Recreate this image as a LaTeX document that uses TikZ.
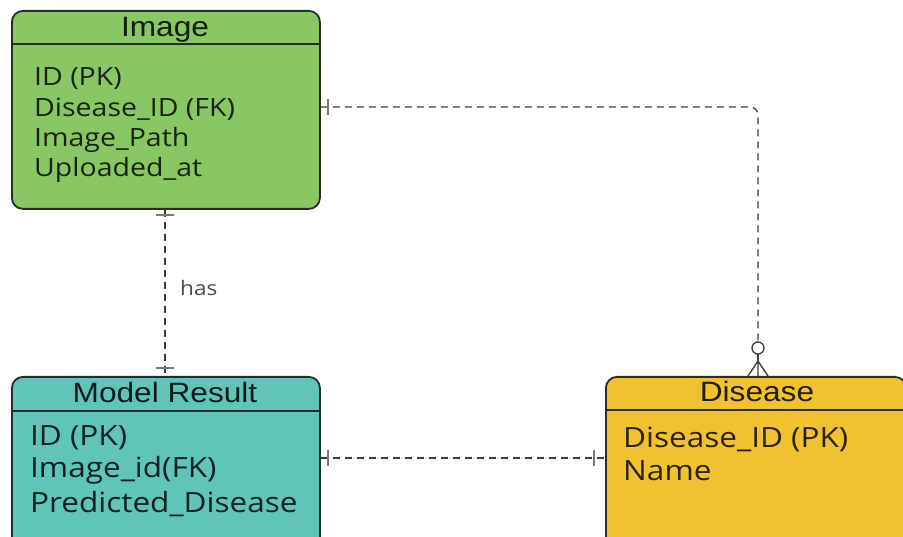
\documentclass[tikz,border=0pt]{standalone}
\usepackage{fontspec}
\setmainfont{Open Sans}[FakeStretch=1.13]
\newfontfamily\titlefont{Liberation Sans}[FakeStretch=1.13]
\begin{document}
\definecolor{imggreen}{RGB}{137,199,100}
\definecolor{modelteal}{RGB}{96,196,184}
\definecolor{disyellow}{RGB}{240,194,48}
\definecolor{edgegray}{RGB}{40,44,40}
\definecolor{linkgray}{RGB}{60,60,60}
\definecolor{tickgray}{RGB}{120,120,120}
\begin{tikzpicture}[x=1pt,y=-1pt,
  entity/.style={draw=edgegray,line width=1.8pt,rounded corners=11pt,inner sep=0pt,anchor=north west},
  title/.style={font=\titlefont\fontsize{28}{28}\selectfont,text=black,text opacity=0.85,anchor=base,inner sep=0pt},
  attr/.style={font=\fontsize{27.9}{28}\selectfont,text=black,text opacity=0.82,anchor=base west,inner sep=0pt},
  smallattr/.style={attr,font=\fontsize{25.2}{26}\selectfont},
  link/.style={draw=linkgray,line width=1.3pt,dash pattern=on 7pt off 5pt},
  tick/.style={draw=tickgray,line width=2.2pt},
  relabel/.style={font=\fontsize{20}{20}\selectfont,text=black!70,anchor=base west,inner sep=0pt}]
\useasboundingbox (0,0) rectangle (903,537);
\clip (0,0) rectangle (903,537);
\fill[white] (0,0) rectangle (903,537);

% entity boxes
\node[entity,fill=imggreen,minimum width=308pt,minimum height=198pt] (img) at (11,10) {};
\node[entity,fill=modelteal,minimum width=308pt,minimum height=190pt] (mod) at (11,376) {};
\node[entity,fill=disyellow,minimum width=300pt,minimum height=190pt] (dis) at (605,376) {};

% header separators
\draw[draw=edgegray,line width=1.6pt] (img.west |- 0,44) -- (img.east |- 0,44);
\draw[draw=edgegray,line width=1.6pt] (mod.west |- 0,411) -- (mod.east |- 0,411);
\draw[draw=edgegray,line width=1.6pt] (dis.west |- 0,410) -- (dis.east |- 0,410);

% titles
\node[title] (imgT) at (165,37) {Image};
\node[title] (modT) at (165,403) {Model Result};
\node[title] (disT) at (757,402) {Disease};

% attributes
\node[smallattr] (i1) at (34,86) {ID (PK)};
\node[smallattr] (i2) at (34,117) {Disease\_ID (FK)};
\node[smallattr] (i3) at (34,147) {Image\_Path};
\node[smallattr] (i4) at (34,177) {Uploaded\_at};

\node[attr] (m1) at (30,446) {ID (PK)};
\node[attr] (m2) at (30,478) {Image\_id(FK)};
\node[attr] (m3) at (30,512) {Predicted\_Disease};

\node[attr] (d1) at (623,447) {Disease\_ID (PK)};
\node[attr] (d2) at (623,480) {Name};

% connector end points
\coordinate (imgR) at (img.east |- 0,107);
\coordinate (imgB) at (img.south -| 165,0);
\coordinate (modT0) at (mod.north -| 165,0);
\coordinate (modR) at (mod.east |- 0,458);
\coordinate (disL) at (dis.west |- 0,458);
\coordinate (disT0) at (dis.north -| 758,0);
\coordinate (crowTop) at (758,361);
\coordinate (ringBot) at (758,354);
\coordinate (ringTop) at (758,342);

% Image -- Disease (one to many, optional)
\draw[link,rounded corners=8pt] (imgR) -- (758,107) -- (ringTop);
\draw[linkgray,line width=1.3pt,fill=white] (758,348) circle (6pt);
\draw[linkgray,line width=1.3pt] (ringBot) -- (crowTop);
\draw[linkgray,line width=1.3pt] (crowTop) -- (748,376) (crowTop) -- (768,376) (crowTop) -- (disT0);
\draw[tick] (328,99) -- (328,115);

% Image -- Model Result
\draw[link] (imgB) -- (modT0);
\draw[tick] (156,215) -- (174,215);
\draw[tick] (156,368) -- (174,368);
\node[relabel] (has) at (180,296) {has};

% Model Result -- Disease
\draw[link] (modR) -- (disL);
\draw[tick] (328,450) -- (328,466);
\draw[tick] (594,450) -- (594,466);
\end{tikzpicture}
\end{document}
